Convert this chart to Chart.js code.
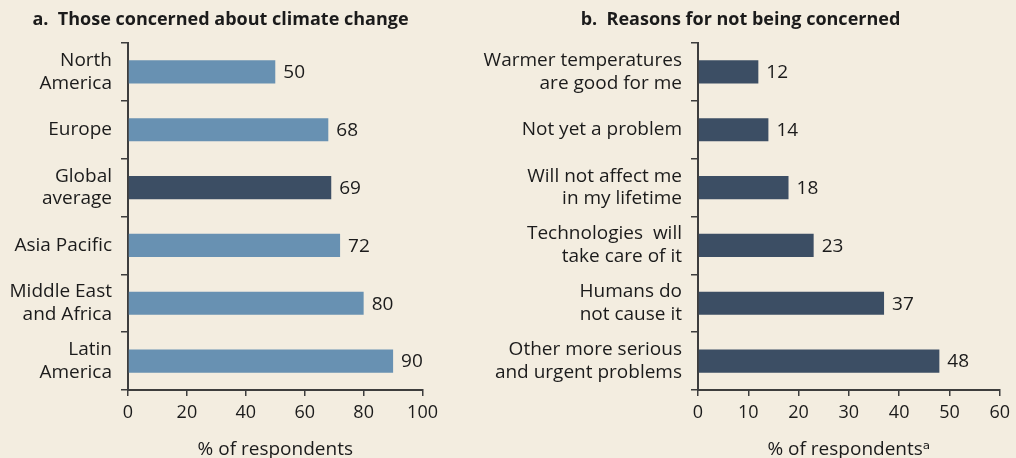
<!DOCTYPE html>
<html>
<head>
<meta charset="utf-8">
<script src="https://cdn.jsdelivr.net/npm/chart.js@4/dist/chart.umd.min.js"></script>
<style>
  html, body { margin: 0; padding: 0; background: #f3ede0; }
  #wrap { position: relative; width: 1016px; height: 458px; overflow: hidden; background: #f3ede0; }
  .panel { position: absolute; top: 0; height: 458px; }
  #pa { left: 0; width: 444px; }
  #pb { left: 466px; width: 550px; }
</style>
</head>
<body>
<div id="wrap">
  <div class="panel" id="pa"><canvas id="chartA"></canvas></div>
  <div class="panel" id="pb"><canvas id="chartB"></canvas></div>
</div>
<script>
// Panel a: share concerned about climate change, by region
const regionLabels = [["North", "America"], "Europe", ["Global", "average"], "Asia Pacific", ["Middle East", "and Africa"], ["Latin", "America"]];
const concernedValues = [50, 68, 69, 72, 80, 90];
const concernedTicks = [0, 20, 40, 60, 80, 100];

// Panel b: reasons given for not being concerned
const reasonLabels = [["Warmer temperatures", "are good for me"], "Not yet a problem", ["Will not affect me", "in my lifetime"], ["Technologies  will", "take care of it"], ["Humans do", "not cause it"], ["Other more serious", "and urgent problems"]];
const reasonValues = [12, 14, 18, 23, 37, 48];
const reasonTicks = [0, 10, 20, 30, 40, 50, 60];

const FONT = "'Open Sans', 'DejaVu Sans', sans-serif";
const TEXT = '#1b1b1b';
const AXIS = '#3d3d3d';
const LIGHT = '#6891b2';
const DARK = '#3c4e64';

Chart.defaults.font.family = FONT;
Chart.defaults.color = TEXT;

// Writes each bar's value just past its end
const valueLabels = {
  id: 'valueLabels',
  afterDatasetsDraw(chart) {
    const ctx = chart.ctx;
    ctx.save();
    ctx.font = '19px ' + FONT;
    ctx.fillStyle = TEXT;
    ctx.textAlign = 'left';
    ctx.textBaseline = 'middle';
    chart.data.datasets.forEach((ds, i) => {
      chart.getDatasetMeta(i).data.forEach((bar, j) => {
        ctx.fillText(String(ds.data[j]), bar.x + 8, bar.y + 1);
      });
    });
    ctx.restore();
  }
};

// Centres the title over the given horizontal span of the canvas
const titleSpan = {
  id: 'titleSpan',
  afterLayout(chart, args, opts) {
    const t = chart.titleBlock;
    if (t && opts.right) {
      t.left = opts.left;
      t.right = opts.right;
    }
  }
};

function makeChart(id, title, labels, values, colors, ticks, axisTitle, yWidth, padRight, titleRight) {
  const max = ticks[ticks.length - 1];
  return new Chart(document.getElementById(id), {
    type: 'bar',
    data: {
      labels: labels,
      datasets: [{
        data: values,
        backgroundColor: colors,
        borderWidth: 0,
        categoryPercentage: 1,
        barPercentage: 0.4
      }]
    },
    options: {
      indexAxis: 'y',
      responsive: true,
      maintainAspectRatio: false,
      animation: false,
      layout: { padding: { left: 0, right: padRight, top: 0, bottom: 0 } },
      plugins: {
        legend: { display: false },
        tooltip: { enabled: false },
        titleSpan: { left: 0, right: titleRight },
        title: {
          display: true,
          text: title,
          color: TEXT,
          font: { size: 18, weight: 'bold', lineHeight: 1.2 },
          padding: { top: 9, bottom: 12.4 }
        }
      },
      scales: {
        x: {
          min: 0,
          max: max,
          afterBuildTicks(scale) { scale.ticks = ticks.map(v => ({ value: v })); },
          afterFit(scale) { scale.height = 68; },
          border: { display: true, color: AXIS, width: 2 },
          grid: { drawOnChartArea: false, drawTicks: true, tickLength: 6, color: AXIS, lineWidth: 1.5 },
          ticks: { color: TEXT, font: { size: 18 }, padding: 6, maxRotation: 0 },
          title: { display: true, text: axisTitle, color: TEXT, font: { size: 19, lineHeight: 0.9 }, padding: { top: 4, bottom: 0 } }
        },
        y: {
          afterFit(scale) { scale.width = yWidth; },
          border: { display: true, color: AXIS, width: 2 },
          grid: { offset: true, drawOnChartArea: false, drawTicks: true, tickLength: 7, color: AXIS, lineWidth: 1.5 },
          ticks: { color: TEXT, font: { size: 19, lineHeight: 1.2 }, padding: 9, autoSkip: false }
        }
      }
    },
    plugins: [valueLabels, titleSpan]
  });
}

makeChart('chartA', 'a.  Those concerned about climate change', regionLabels, concernedValues,
  regionLabels.map((l, i) => i === 2 ? DARK : LIGHT), concernedTicks, '% of respondents', 128, 21, 441);

makeChart('chartB', 'b.  Reasons for not being concerned', reasonLabels, reasonValues,
  reasonValues.map(() => DARK), reasonTicks, '% of respondents\u1D43', 232, 11, 549);
</script>
</body>
</html>
